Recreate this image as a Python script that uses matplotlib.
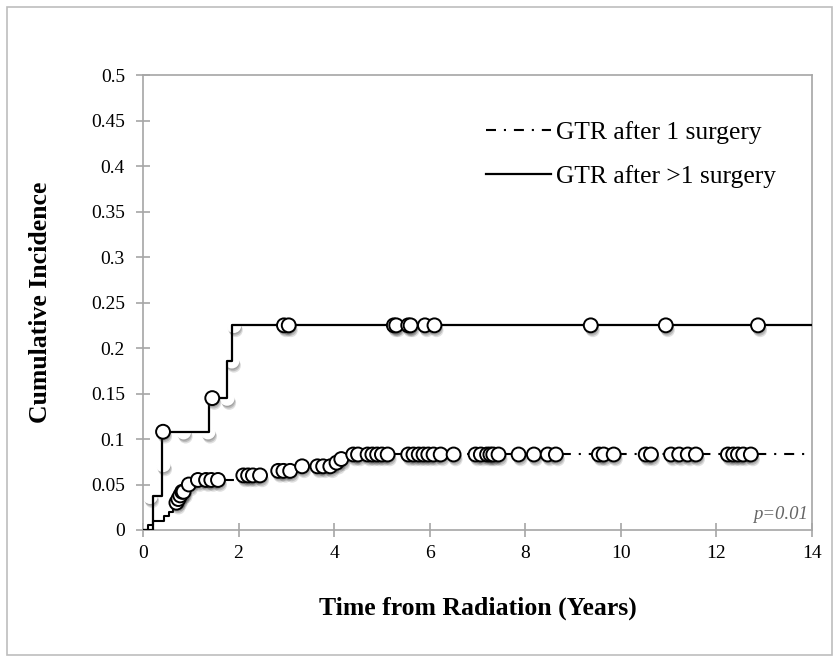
import matplotlib
matplotlib.use("Agg")
import matplotlib.pyplot as plt
import matplotlib.patheffects as pe
from matplotlib.patches import Rectangle
from matplotlib.lines import Line2D
import numpy as np

# Step curves (time in years, cumulative incidence)
one_times = [0, 0.1, 0.2, 0.45, 0.55, 0.62, 0.68, 0.72, 0.77, 0.8, 0.86, 0.95,
             1.1, 1.9, 2.7, 3.3, 4.0, 4.1, 4.25, 14]
one_cif = [0, 0.005, 0.01, 0.015, 0.02, 0.025, 0.03, 0.034, 0.038, 0.042, 0.046,
           0.05, 0.055, 0.06, 0.065, 0.07, 0.074, 0.078, 0.083, 0.083]

multi_times = [0, 0.2, 0.4, 1.38, 1.76, 1.86, 14]
multi_cif = [0, 0.037, 0.108, 0.145, 0.186, 0.225, 0.225]

# Censored observations
one_censor = [0.7, 0.74, 0.78, 0.82, 0.85, 0.96, 1.15, 1.32, 1.43, 1.57,
              2.1, 2.2, 2.3, 2.45, 2.83, 2.94, 3.08, 3.33, 3.65, 3.77, 3.92,
              4.05, 4.15, 4.4, 4.5, 4.7, 4.8, 4.9, 5.0, 5.12,
              5.55, 5.66, 5.77, 5.87, 5.97, 6.08, 6.23, 6.5,
              6.96, 7.07, 7.2, 7.27, 7.33, 7.44, 7.86, 8.18, 8.47, 8.64,
              9.54, 9.64, 9.85, 10.52, 10.63, 11.05, 11.22, 11.4, 11.57,
              12.24, 12.35, 12.45, 12.56, 12.72]
multi_censor = [0.42, 1.45, 2.95, 3.05, 5.25, 5.3, 5.55, 5.6, 5.9, 6.1,
                9.37, 10.94, 12.87]

# Faint event marks (shadow only)
ghost_x = [0.1, 0.15, 0.42, 0.85, 1.36, 1.76, 1.86, 1.9]
ghost_y = [0, 0.037, 0.072, 0.108, 0.108, 0.145, 0.186, 0.225]

labels = ["GTR after 1 surgery", "GTR after >1 surgery"]
dashdot = (0, (4.8, 3.8, 1, 3.8))


def step_value(times, cif, t):
    """Value of a post-step curve at time t"""
    idx = np.searchsorted(times, t, side="right") - 1
    return np.asarray(cif)[idx]


plt.rcParams["font.family"] = ["Liberation Serif", "DejaVu Serif"]

fig = plt.figure(figsize=(8.38, 6.6), dpi=100)
ax = fig.add_axes([0.1706, 0.197, 0.7984, 0.689])

# Outer frame around the figure
fig.patches.append(Rectangle((0.008, 0.008), 0.985, 0.982, transform=fig.transFigure,
                             fill=False, edgecolor="#bdbdbd", linewidth=1.2))

shadow = [pe.SimplePatchShadow(offset=(0.5, -1.5), shadow_rgbFace="#333333", alpha=0.2),
          pe.SimplePatchShadow(offset=(1, -2.5), shadow_rgbFace="#333333", alpha=0.2),
          pe.SimplePatchShadow(offset=(1.5, -3.5), shadow_rgbFace="#333333", alpha=0.15)]

# Step lines (short early steps look solid in the original)
ax.step(one_times[:13], one_cif[:13], where="post", color="black", linewidth=1.5, zorder=3)
ax.step(one_times[12:], one_cif[12:], where="post", color="black", linewidth=1.5,
        linestyle=dashdot, zorder=3)
ax.step(multi_times, multi_cif, where="post", color="black", linewidth=1.6, zorder=3)

# Ghost marks
ax.plot(ghost_x, ghost_y, "o", linestyle="none", markersize=10,
        markerfacecolor="white", markeredgecolor="white",
        path_effects=shadow + [pe.Normal()], zorder=2)

# Censor marks
for t, c, cens in [(one_times, one_cif, one_censor), (multi_times, multi_cif, multi_censor)]:
    ax.plot(cens, step_value(t, c, cens), "o", linestyle="none",
            markersize=10, markerfacecolor="white", markeredgecolor="black",
            markeredgewidth=1.4, path_effects=shadow + [pe.Normal()], zorder=4)

ax.set_xlim(0, 14)
ax.set_ylim(0, 0.5)
ax.set_xticks(np.arange(0, 15, 2))
yt = np.arange(0, 0.51, 0.05)
ax.set_yticks(yt)
ax.set_yticklabels(["0"] + [f"{v:g}" for v in np.round(yt[1:], 2)])

for s in ax.spines.values():
    s.set_color("#a6a6a6")
    s.set_linewidth(1.2)
ax.tick_params(axis="both", direction="inout", length=10, width=1.2,
               color="#a6a6a6", labelsize=14, pad=6)
ax.tick_params(axis="y", pad=8)

ax.set_xlabel("Time from Radiation (Years)", fontsize=18.5, fontweight="bold", labelpad=25)
ax.set_ylabel("Cumulative Incidence", fontsize=18.5, fontweight="bold", labelpad=28)

# Legend
handles = [Line2D([], [], color="black", linewidth=1.5, linestyle=dashdot),
           Line2D([], [], color="black", linewidth=1.6)]
ax.legend(handles, labels, loc="upper left", bbox_to_anchor=(0.512, 0.90),
          frameon=False, fontsize=18.4, handlelength=2.55, handletextpad=0.22,
          labelspacing=0.85, borderaxespad=0, borderpad=0)

ax.text(0.994, 0.033, "p=0.01", transform=ax.transAxes, ha="right", va="center",
        fontsize=13.5, style="italic", color="#666666")

plt.savefig("out.png", dpi=100)
